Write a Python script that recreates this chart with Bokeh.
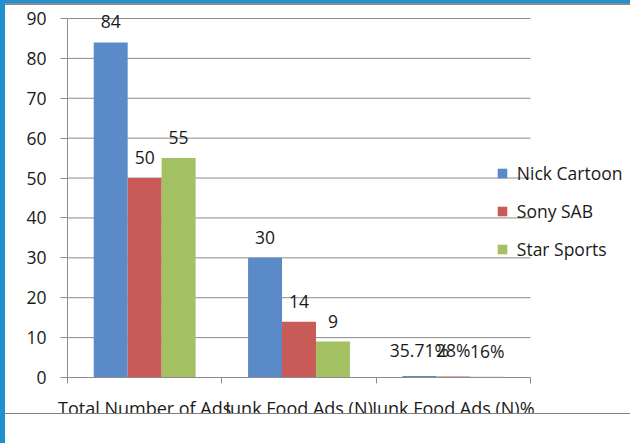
from bokeh.plotting import figure
from bokeh.models import ColumnDataSource, Range1d, FixedTicker, LabelSet, Div
from bokeh.transform import dodge
from bokeh.core.properties import value
from bokeh.embed import file_html
from bokeh.resources import INLINE

categories = ["Total Number of Ads", "Junk Food Ads (N)", "Junk Food Ads (N)%"]
series_names = ["Nick Cartoon", "Sony SAB", "Star Sports"]
nick_cartoon = [84, 30, 0.3571]
sony_sab = [50, 14, 0.28]
star_sports = [55, 9, 0.16]
nick_labels = ["84", "30", "35.71%"]
sony_labels = ["50", "14", "28%"]
star_labels = ["55", "9", "16%"]
y_ticks = [0, 10, 20, 30, 40, 50, 60, 70, 80, 90]

colors = ["#5A8BC8", "#C85A58", "#A3C063"]
FONT = "Open Sans"
FS = "17.5px"
TEXT = "#1a1a1a"
GRID = "#8c8c8c"

W, H = 630, 445
FL, FR, FT, FB = 67, 530, 18, 377   # chart area edges (pixels)
YMAX = 90
n = len(categories)
xpx = (FR - FL) / n
ypx = (FB - FT) / YMAX

# the drawing frame spans right to the canvas edge and up to the top,
# so legend and top labels are not clipped; axes are bounded to the chart area
p = figure(width=W, height=H, output_backend="svg", toolbar_location=None,
           x_range=Range1d(0, (W - FL) / xpx), y_range=Range1d(0, FB / ypx),
           min_border_left=FL, min_border_right=0,
           min_border_top=0, min_border_bottom=H - FB)
p.styles = {"position": "absolute", "left": "0px", "top": "0px"}
p.outline_line_color = None
p.background_fill_color = "white"
p.border_fill_color = "white"

# horizontal gridlines at the y ticks, across the chart area only
p.segment(x0=0, x1=n, y0=y_ticks, y1=y_ticks, line_color=GRID, line_width=1)

centers = [i + 0.5 for i in range(n)]
offsets = [-0.22, 0.0, 0.22]
values_list = [nick_cartoon, sony_sab, star_sports]
labels_list = [nick_labels, sony_labels, star_labels]

for name, vals, labs, col, off in zip(series_names, values_list, labels_list, colors, offsets):
    src = ColumnDataSource(dict(x=centers, top=vals, label=labs))
    p.vbar(x=dodge("x", off, range=p.x_range), top="top", width=0.22, source=src,
           fill_color=col, line_color=None, legend_label=name)
    p.add_layout(LabelSet(x=dodge("x", off, range=p.x_range), y="top", text="label", source=src,
                          text_align="center", text_baseline="bottom", y_offset=14,
                          text_font=value(FONT), text_font_size=FS, text_color=TEXT))

# x axis
p.xaxis.bounds = (0, n)
p.xaxis.ticker = FixedTicker(ticks=centers, minor_ticks=list(range(n + 1)))
p.xaxis.major_label_overrides = {c: nm for c, nm in zip(centers, categories)}
p.xaxis.major_tick_line_color = None
p.xaxis.major_tick_in = 0
p.xaxis.major_tick_out = 0
p.xaxis.minor_tick_in = 0
p.xaxis.minor_tick_out = 6
p.xaxis.minor_tick_line_color = GRID
p.xaxis.axis_line_color = GRID
p.xaxis.major_label_standoff = 12
p.xaxis.major_label_text_font = FONT
p.xaxis.major_label_text_font_size = "18px"
p.xaxis.major_label_text_color = TEXT

# y axis
p.yaxis.bounds = (0, YMAX)
p.yaxis.ticker = FixedTicker(ticks=y_ticks, minor_ticks=[])
p.yaxis.major_tick_in = 0
p.yaxis.major_tick_out = 7
p.yaxis.major_tick_line_color = GRID
p.yaxis.minor_tick_line_color = None
p.yaxis.axis_line_color = GRID
p.yaxis.major_label_standoff = 14
p.yaxis.major_label_text_font = FONT
p.yaxis.major_label_text_font_size = FS
p.yaxis.major_label_text_color = TEXT

p.xgrid.visible = False
p.ygrid.visible = False

# legend
lg = p.legend[0]
lg.location = (428.8, 116.5)
lg.label_text_font = FONT
lg.label_text_font_size = FS
lg.label_text_color = TEXT
lg.glyph_width = 12
lg.glyph_height = 12
lg.label_height = 20
lg.spacing = 14
lg.padding = 0
lg.margin = 0
lg.label_standoff = 9
lg.border_line_color = None
lg.background_fill_alpha = 0

# window decoration: blue border, grey rule and the cut at the bottom
def deco(left, top, w, h, **css):
    st = {"position": "absolute", "left": f"{left}px", "top": f"{top}px",
          "box-sizing": "border-box", "overflow": "hidden",
          "padding": "0px", "margin": "0px"}
    st.update(css)
    return Div(text="", width=w, height=h, styles=st)

bottom_cut = deco(5, 413, W - 5, H - 413 - 2, **{"background-color": "white",
                                                 "border-top": "1px solid #808080"})
top_bar = deco(0, 0, W, 5, **{"background-color": "#2090D0",
                              "border-bottom": "2px solid #8a8a8a"})
left_bar = deco(0, 0, 5, H - 2, **{"background-color": "#2090D0"})

open("out.html", "w").write(file_html([p, bottom_cut, top_bar, left_bar], INLINE))
